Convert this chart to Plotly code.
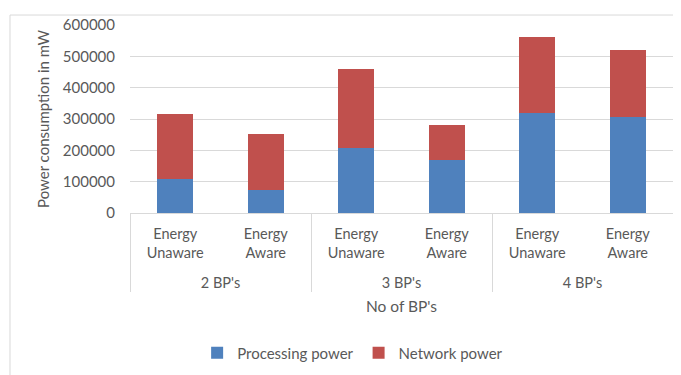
import plotly.graph_objects as go

groups = ["<br>2 BP's", "<br>2 BP's", "<br>3 BP's", "<br>3 BP's", "<br>4 BP's", "<br>4 BP's"]
modes = ["Energy<br>Unaware", "Energy<br>Aware"] * 3
processing = [108000, 72000, 206000, 169000, 319000, 307000]
network = [208000, 180000, 253000, 113000, 242000, 213000]

FONT = "Lato"
TXT = "#595959"
GRID = "#D9D9D9"

fig = go.Figure()
fig.add_trace(go.Bar(x=[groups, modes], y=processing, name="Processing power",
                     marker=dict(color="#4F81BD", line=dict(width=0))))
fig.add_trace(go.Bar(x=[groups, modes], y=network, name="Network power",
                     marker=dict(color="#C0504D", line=dict(width=0))))

fig.update_layout(
    barmode="stack", bargap=0.6,
    width=673, height=367,
    margin=dict(l=122, r=8, t=17, b=161),
    paper_bgcolor="white", plot_bgcolor="white",
    font=dict(family=FONT, size=14, color=TXT),
    showlegend=True,
    legend=dict(orientation="h", x=0.41, xanchor="center", y=-0.735, yanchor="middle",
                font=dict(size=15, color=TXT), itemwidth=30, traceorder="normal"),
)
fig.update_xaxes(type="multicategory", showline=True, linecolor=GRID, linewidth=1,
                 showdividers=True, dividercolor=GRID, dividerwidth=1,
                 ticks="", ticklabelstandoff=8, tickfont=dict(size=14.5, color=TXT),
                 title=dict(text="No of BP's", font=dict(size=15.5, color=TXT), standoff=11))
fig.update_yaxes(range=[0, 600000], dtick=100000, tickformat="d",
                 showgrid=True, gridcolor=GRID, gridwidth=1, zeroline=False,
                 showline=False, ticks="", ticklabelstandoff=14,
                 tickfont=dict(size=15, color=TXT),
                 title=dict(text="Power consumption in mW", font=dict(size=15, color=TXT), standoff=9))

fig.add_shape(type="rect", xref="paper", yref="paper", x0=-0.221, x1=1.2, y0=-1.5, y1=1.053,
              line=dict(color=GRID, width=1), fillcolor="rgba(0,0,0,0)", layer="below")

fig.write_html("out.html")
